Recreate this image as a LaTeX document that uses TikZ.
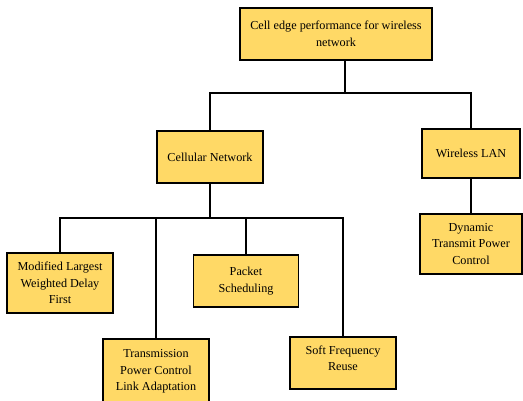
\documentclass[tikz,border=0pt]{standalone}
\usepackage{fontspec}
\setmainfont{Liberation Serif}
\definecolor{boxfill}{HTML}{FFD966}
\tikzset{
  box/.style={draw=black, line width=1.5pt, fill=boxfill, align=center,
    inner sep=0pt, font=\fontsize{12.2}{16.5}\selectfont},
  link/.style={draw=black, line width=1.4pt}
}
\begin{document}
\begin{tikzpicture}[x=1pt,y=-1pt]
\useasboundingbox (0,0) rectangle (523,400);
\node[box, minimum width=192pt, minimum height=52pt] (top) at (336,34) {Cell edge performance for wireless\\network};
\node[box, minimum width=106pt, minimum height=52pt] (cell) at (210,157) {Cellular Network};
\node[box, minimum width=98pt, minimum height=49pt] (wlan) at (471,153.5) {Wireless LAN};
\node[box, minimum width=102pt, minimum height=60pt] (dyn) at (471,244) {Dynamic\\Transmit Power\\Control};
\node[box, minimum width=106pt, minimum height=60pt] (mod) at (60,283) {Modified Largest\\Weighted Delay\\First};
\node[box, minimum width=105pt, minimum height=52pt] (pkt) at (246,281) {Packet\\Scheduling};
\node[box, minimum width=106pt, minimum height=66pt, anchor=north] (trans) at (156,338) {Transmission\\Power Control\\Link Adaptation};
\node[box, minimum width=106pt, minimum height=52pt,
  label={[align=center, font=\fontsize{12.2}{16.5}\selectfont, yshift=4.5pt]center:Soft Frequency\\Reuse}] (soft) at (343,363) {};
\coordinate (b1) at (345,93);
\coordinate (b2) at (210,218);
\draw[link] (top.south -| b1) -- (b1);
\draw[link] (cell.north) -- (cell.north |- b1) -- (wlan.north |- b1) -- (wlan.north);
\draw[link] (wlan.south) -- (dyn.north);
\draw[link] (cell.south) -- (b2);
\draw[link] (mod.north) -- (mod.north |- b2) -- (soft.north |- b2) -- (soft.north);
\draw[link] (trans.north |- b2) -- (trans.north);
\draw[link] (pkt.north |- b2) -- (pkt.north);
\end{tikzpicture}
\end{document}
